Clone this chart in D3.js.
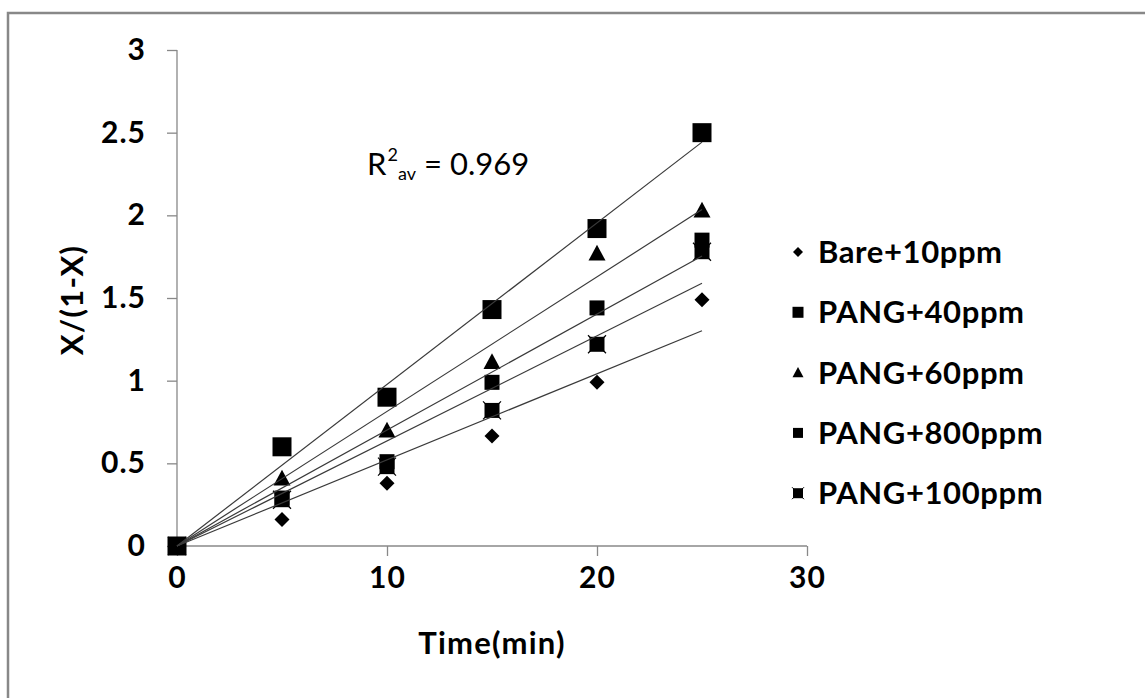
<!DOCTYPE html>
<html>
<head>
<meta charset="utf-8">
<script src="https://cdn.jsdelivr.net/npm/d3@7"></script>
<style>
  body { margin: 0; background: #fff; }
  svg text { font-family: Lato, "Liberation Sans", sans-serif; fill: #000; }
  .axis path, .axis line { stroke: #888; stroke-width: 1.3; }
  .axis text { font-size: 30px; font-weight: 700; letter-spacing: 1px; }
</style>
</head>
<body>
<svg width="1145" height="698"></svg>
<script>
// time points (min)
var times = [0, 5, 10, 15, 20, 25]
var seriesNames = ["Bare+10ppm", "PANG+40ppm", "PANG+60ppm", "PANG+800ppm", "PANG+100ppm"]
var bare10 = [0, 0.16, 0.38, 0.665, 0.99, 1.49]
var pang40 = [0, 0.60, 0.90, 1.43, 1.92, 2.50]
var pang60 = [0, 0.41, 0.70, 1.115, 1.77, 2.03]
var pang800 = [0, 0.29, 0.51, 0.99, 1.44, 1.85]
var pang100 = [0, 0.28, 0.48, 0.82, 1.22, 1.78]
var xTicks = [0, 10, 20, 30]
var yTicks = [0, 0.5, 1, 1.5, 2, 2.5, 3]
var annotation = "0.969"

var allSeries = [bare10, pang40, pang60, pang800, pang100]
var markerKinds = ["diamond", "bigSquare", "triangle", "square", "squareX"]

var svg = d3.select("svg")

// outer frame, only top and left edges fall inside the picture
svg.append("rect").attr("x", 8).attr("y", 13).attr("width", 1200).attr("height", 760)
  .attr("fill", "none").attr("stroke", "#888").attr("stroke-width", 2.5)

var xScale = d3.scaleLinear().domain([0, 30]).range([177, 807])
var yScale = d3.scaleLinear().domain([0, 3]).range([546, 50])

var xAxis = d3.axisBottom(xScale).tickValues(xTicks).tickSize(10).tickPadding(11).tickFormat(d3.format("d"))
var yAxis = d3.axisLeft(yScale).tickValues(yTicks).tickSize(10).tickPadding(21).tickFormat(d => d)

svg.append("g").attr("class", "axis").attr("transform", "translate(0,546)").call(xAxis)
  .call(g => g.select(".domain").attr("d", "M177,0H807"))
svg.append("g").attr("class", "axis").attr("transform", "translate(177,0)").call(yAxis)
  .call(g => g.select(".domain").attr("d", "M0,50V546"))

svg.append("text").attr("x", 492).attr("y", 654).attr("text-anchor", "middle")
  .style("font-size", "31px").style("font-weight", 700).style("letter-spacing", "1.2px").text("Time(min)")
svg.append("text").attr("transform", "translate(83,300) rotate(-90)").attr("text-anchor", "middle")
  .style("font-size", "31px").style("font-weight", 700).style("letter-spacing", "1.2px").text("X/(1-X)")

function markerPath(kind, s) {
  if (kind == "diamond") return `M0,${-s}L${s},0L0,${s}L${-s},0Z`
  if (kind == "triangle") return `M0,${-s}L${s},${s * 0.85}L${-s},${s * 0.85}Z`
  return `M${-s},${-s}H${s}V${s}H${-s}Z`
}
var markerSize = { diamond: 7.5, bigSquare: 9.5, triangle: 8.5, square: 7.5, squareX: 7.5 }
var legendSize = { diamond: 5, bigSquare: 5.5, triangle: 5.5, square: 5, squareX: 5 }

var chart = svg.append("g").attr("id", "chart")

allSeries.forEach((vals, i) => {
  var kind = markerKinds[i]
  var pts = chart.selectAll(".pt" + i).data(vals).enter().append("g")
    .attr("class", "pt" + i)
    .attr("transform", (d, j) => `translate(${xScale(times[j])},${yScale(d)})`)
  pts.append("path").attr("d", markerPath(kind, markerSize[kind])).attr("fill", "#000")
  if (kind == "squareX") {
    var s = markerSize[kind] + 1.5
    pts.append("path").attr("d", `M${-s},${-s}L${s},${s}M${s},${-s}L${-s},${s}`)
      .attr("stroke", "#000").attr("stroke-width", 1.2)
  }
})

// linear trendlines through the origin (least squares)
allSeries.forEach((vals, i) => {
  var slope = d3.sum(vals, (d, j) => d * times[j]) / d3.sum(times, t => t * t)
  var tEnd = times[times.length - 1]
  chart.append("line").attr("x1", xScale(0)).attr("y1", yScale(0))
    .attr("x2", xScale(tEnd)).attr("y2", yScale(slope * tEnd))
    .attr("stroke", "#3a3a3a").attr("stroke-width", 1.2)
})

// annotation
var ann = svg.append("text").attr("x", 367).attr("y", 175).style("font-size", "31px")
ann.append("tspan").text("R")
ann.append("tspan").attr("dx", 1).attr("dy", -14).style("font-size", "18px").text("2")
ann.append("tspan").attr("x", 398).attr("dy", 19).style("font-size", "18px").text("av")
ann.append("tspan").attr("x", 424).attr("dy", -5).text("= " + annotation)

// legend
var legend = svg.append("g").selectAll("g").data(seriesNames).enter().append("g")
  .attr("transform", (d, i) => `translate(798,${252 + i * 60.3})`)
legend.append("path").attr("d", (d, i) => markerPath(markerKinds[i], legendSize[markerKinds[i]])).attr("fill", "#000")
legend.filter((d, i) => markerKinds[i] == "squareX").append("path")
  .attr("d", "M-6,-6L6,6M6,-6L-6,6").attr("stroke", "#000").attr("stroke-width", 1)
legend.append("text").attr("x", 20).attr("dy", "0.36em")
  .style("font-size", "31px").style("font-weight", 700).style("letter-spacing", "0.6px").text(d => d)
</script>
</body>
</html>
